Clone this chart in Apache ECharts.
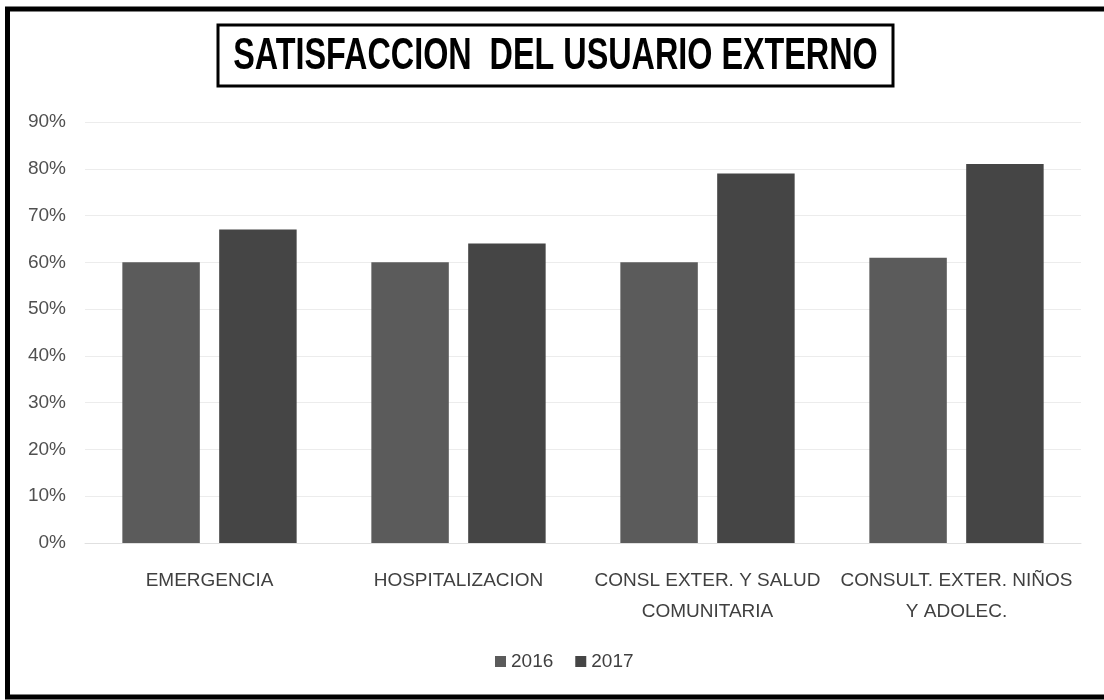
<!DOCTYPE html>
<html>
<head>
<meta charset="utf-8">
<script src="https://cdn.jsdelivr.net/npm/echarts@6/dist/echarts.min.js"></script>
<style>html,body{margin:0;padding:0;background:#fff;}#c{width:1104px;height:700px;}</style>
</head>
<body>
<div id="c"></div>
<script>
const titleText = 'SATISFACCION  DEL USUARIO EXTERNO';
const categories = ['EMERGENCIA', 'HOSPITALIZACION', 'CONSL EXTER. Y SALUD\nCOMUNITARIA', 'CONSULT. EXTER. NIÑOS\nY ADOLEC.'];
const seriesNames = ['2016', '2017'];
const values2016 = [0.60, 0.60, 0.60, 0.61];
const values2017 = [0.67, 0.64, 0.79, 0.81];
const yTicks = {min: 0, max: 0.9, interval: 0.1};

const chart = echarts.init(document.getElementById('c'));
chart.setOption({
  animation: false,
  backgroundColor: '#fff',
  graphic: [
    {type: 'rect', shape: {x: 7.5, y: 9, width: 1120, height: 688}, style: {fill: 'none', stroke: '#000', lineWidth: 5}, z: 10},
    {type: 'rect', shape: {x: 218, y: 25, width: 675, height: 61}, style: {fill: '#fff', stroke: '#000', lineWidth: 3}, z: 10},
    {type: 'text', x: 555.5, y: 57, scaleX: 0.735, style: {text: titleText, fontFamily: 'Liberation Sans', fontWeight: 'bold', fontSize: 44, fill: '#000', align: 'center', verticalAlign: 'middle'}, z: 11}
  ],
  grid: {left: 85, right: 23, top: 122, bottom: 157},
  legend: {
    data: seriesNames,
    bottom: 24,
    left: 490,
    itemWidth: 11, itemHeight: 11, itemGap: 22,
    icon: 'rect',
    textStyle: {fontFamily: 'Liberation Sans', fontSize: 19, color: '#404040'}
  },
  xAxis: {
    type: 'category',
    data: categories,
    axisLine: {show: true, lineStyle: {color: '#e0e0e0', width: 1}},
    axisTick: {show: false},
    axisLabel: {fontFamily: 'Liberation Sans', fontSize: 19, color: '#404040', margin: 22, lineHeight: 31, interval: 0}
  },
  yAxis: {
    type: 'value',
    min: yTicks.min, max: yTicks.max, interval: yTicks.interval,
    axisLine: {show: false},
    axisTick: {show: false},
    splitLine: {lineStyle: {color: '#ececec', width: 1}},
    axisLabel: {fontFamily: 'Liberation Sans', fontSize: 19, color: '#505050', margin: 19,
      formatter: v => Math.round(v * 100) + '%'}
  },
  series: [
    {name: seriesNames[0], type: 'bar', data: values2016, barGap: '25%', barCategoryGap: '30%', itemStyle: {color: '#5b5b5b'}},
    {name: seriesNames[1], type: 'bar', data: values2017, barGap: '25%', barCategoryGap: '30%', itemStyle: {color: '#454545'}}
  ]
});
</script>
</body>
</html>
